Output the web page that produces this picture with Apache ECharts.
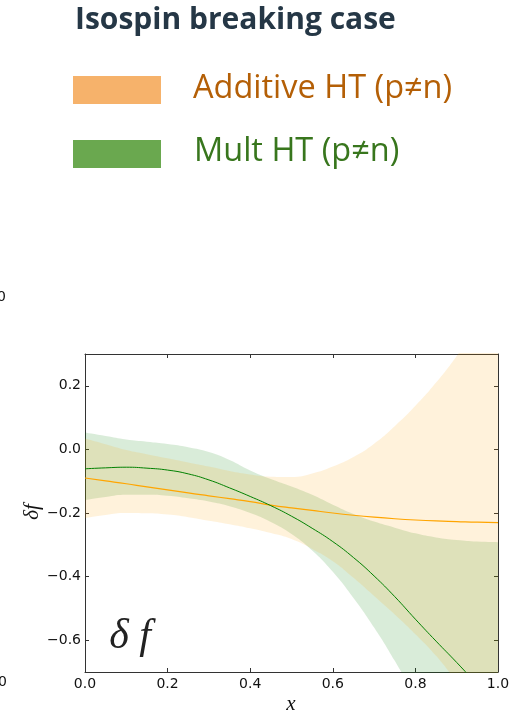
<!DOCTYPE html>
<html><head><meta charset="utf-8">
<script src="https://cdn.jsdelivr.net/npm/echarts@6/dist/echarts.min.js"></script>
<style>html,body{margin:0;padding:0;background:#fff}#c{width:525px;height:714px}</style>
</head><body><div id="c"></div>
<script>
// ---- data ----
const xs = [0,0.05,0.1,0.15,0.2,0.25,0.3,0.35,0.4,0.45,0.5,0.55,0.6,0.65,0.7,0.75,0.8,0.85,0.9,0.95,1.0];
const addCentral = [-0.090,-0.099,-0.108,-0.118,-0.127,-0.137,-0.146,-0.155,-0.164,-0.175,-0.184,-0.192,-0.200,-0.207,-0.213,-0.218,-0.222,-0.225,-0.227,-0.229,-0.230];
const addUpper   = [0.034,0.016,-0.002,-0.015,-0.028,-0.041,-0.054,-0.068,-0.079,-0.086,-0.087,-0.076,-0.054,-0.024,0.018,0.073,0.137,0.210,0.294,0.390,0.490];
const addLower   = [-0.216,-0.206,-0.200,-0.201,-0.205,-0.213,-0.224,-0.235,-0.248,-0.263,-0.282,-0.313,-0.352,-0.404,-0.461,-0.519,-0.581,-0.649,-0.730,-0.810,-0.900];
const multCentral= [-0.061,-0.058,-0.056,-0.059,-0.065,-0.077,-0.096,-0.121,-0.148,-0.177,-0.210,-0.248,-0.290,-0.340,-0.398,-0.463,-0.534,-0.603,-0.670,-0.740,-0.810];
const multUpper  = [0.053,0.042,0.031,0.024,0.017,0.007,-0.008,-0.033,-0.066,-0.093,-0.117,-0.143,-0.174,-0.203,-0.227,-0.246,-0.264,-0.277,-0.285,-0.290,-0.292];
const multLower  = [-0.160,-0.150,-0.143,-0.143,-0.146,-0.154,-0.164,-0.179,-0.200,-0.228,-0.266,-0.318,-0.385,-0.467,-0.560,-0.665,-0.780,-0.910,-1.050,-1.200,-1.360];
const yTickValues = [-0.6,-0.4,-0.2,0,0.2];
const yRange = [-0.7,0.3];
const titleText = 'Isospin breaking case';
const legendNames = ['Additive HT (p\u2260n)','Mult HT (p\u2260n)'];
const yLabelText = '\u03b4f';
const xLabelText = 'x';
const insetText = '\u03b4 f';

// ---- build ----
const diff = (u,l) => u.map((v,i)=> +(v-l[i]).toFixed(4));
const axisCol = '#333';
const tickLabel = {color:'#111', fontFamily:'DejaVu Sans', fontSize:14};
const fmtY = v => (v < -1e-9 ? '\u2212' : '') + Math.abs(v).toFixed(1);
const base = {type:'line', symbol:'none', smooth:0.5, silent:true, stackStrategy:'all'};
const catAxis = (pos, showLabel) => ({
  type:'category', data:xs, boundaryGap:false, position:pos,
  axisLine:{show:true,onZero:false,lineStyle:{color:axisCol,width:1}},
  axisTick:{show:true,inside:true,length:4,interval:3,lineStyle:{color:axisCol}},
  axisLabel: showLabel ? Object.assign({margin:5, interval:3, formatter:v=>Number(v).toFixed(1)}, tickLabel) : {show:false},
  splitLine:{show:false}
});
const valAxis = (pos, showLabel) => ({
  type:'value', min:yRange[0], max:yRange[1], position:pos,
  axisLine:{show:true,onZero:false,lineStyle:{color:axisCol,width:1}},
  axisTick:{show:true,inside:true,length:4,customValues:yTickValues,lineStyle:{color:axisCol}},
  axisLabel: showLabel ? Object.assign({margin:4, customValues:yTickValues, formatter:fmtY}, tickLabel) : {show:false},
  splitLine:{show:false}
});

const chart = echarts.init(document.getElementById('c'), null, {renderer:'canvas'});
chart.setOption({
  animation:false,
  backgroundColor:'#fff',
  grid:{left:85, right:27, top:354, bottom:42, containLabel:false},
  xAxis:[catAxis('bottom', true), catAxis('top', false)],
  yAxis:[valAxis('left', true), valAxis('right', false)],
  series:[
    Object.assign({}, base, {name:'multLower', stack:'mult', data:multLower, lineStyle:{opacity:0}, z:1}),
    Object.assign({}, base, {name:'multBand', stack:'mult', data:diff(multUpper,multLower), lineStyle:{opacity:0}, areaStyle:{color:'rgba(0,128,0,0.21)'}, z:1}),
    Object.assign({}, base, {name:'addLower', stack:'add', data:addLower, lineStyle:{opacity:0}, z:2}),
    Object.assign({}, base, {name:'addBand', stack:'add', data:diff(addUpper,addLower), lineStyle:{opacity:0}, areaStyle:{color:'rgba(255,165,0,0.2)'}, z:2}),
    Object.assign({}, base, {name:'addCentral', data:addCentral, lineStyle:{color:'#ffa500', width:1.2}, z:3}),
    Object.assign({}, base, {name:'multCentral', data:multCentral, lineStyle:{color:'#008000', width:1}, z:3})
  ],
  graphic:[
    {type:'text', x:75, y:20, style:{text:titleText, font:'bold 30px "Open Sans"', fill:'#253746', align:'left', verticalAlign:'middle', textAlign:'left', textVerticalAlign:'middle'}},
    {type:'rect', shape:{x:73, y:76, width:88, height:28}, style:{fill:'#f6b26b'}},
    {type:'rect', shape:{x:73, y:140, width:88, height:28}, style:{fill:'#6aa84f'}},
    {type:'text', x:193, y:88.5, style:{text:legendNames[0], font:'32.5px "Open Sans"', fill:'#b45f06', align:'left', verticalAlign:'middle', textAlign:'left', textVerticalAlign:'middle'}},
    {type:'text', x:194, y:152, style:{text:legendNames[1], font:'32.5px "Open Sans"', fill:'#38761d', align:'left', verticalAlign:'middle', textAlign:'left', textVerticalAlign:'middle'}},
    {type:'text', x:6, y:297, style:{text:'0', font:'14px "DejaVu Sans"', fill:'#111', align:'right', verticalAlign:'middle', textAlign:'right', textVerticalAlign:'middle'}},
    {type:'text', x:7, y:682, style:{text:'0', font:'14px "DejaVu Sans"', fill:'#111', align:'right', verticalAlign:'middle', textAlign:'right', textVerticalAlign:'middle'}},
    {type:'text', x:32, y:512, rotation:Math.PI/2, style:{text:yLabelText, font:'italic 21px "Liberation Serif"', fill:'#111', align:'center', verticalAlign:'middle', textAlign:'center', textVerticalAlign:'middle'}},
    {type:'text', x:291, y:704, style:{text:xLabelText, font:'italic 21px "Liberation Serif"', fill:'#111', align:'center', verticalAlign:'middle', textAlign:'center', textVerticalAlign:'middle'}, z:10},
    {type:'text', x:130, y:637, style:{text:insetText, font:'italic 42px "Liberation Serif"', fill:'#222', align:'center', verticalAlign:'middle', textAlign:'center', textVerticalAlign:'middle'}, z:10}
  ]
});
</script></body></html>
